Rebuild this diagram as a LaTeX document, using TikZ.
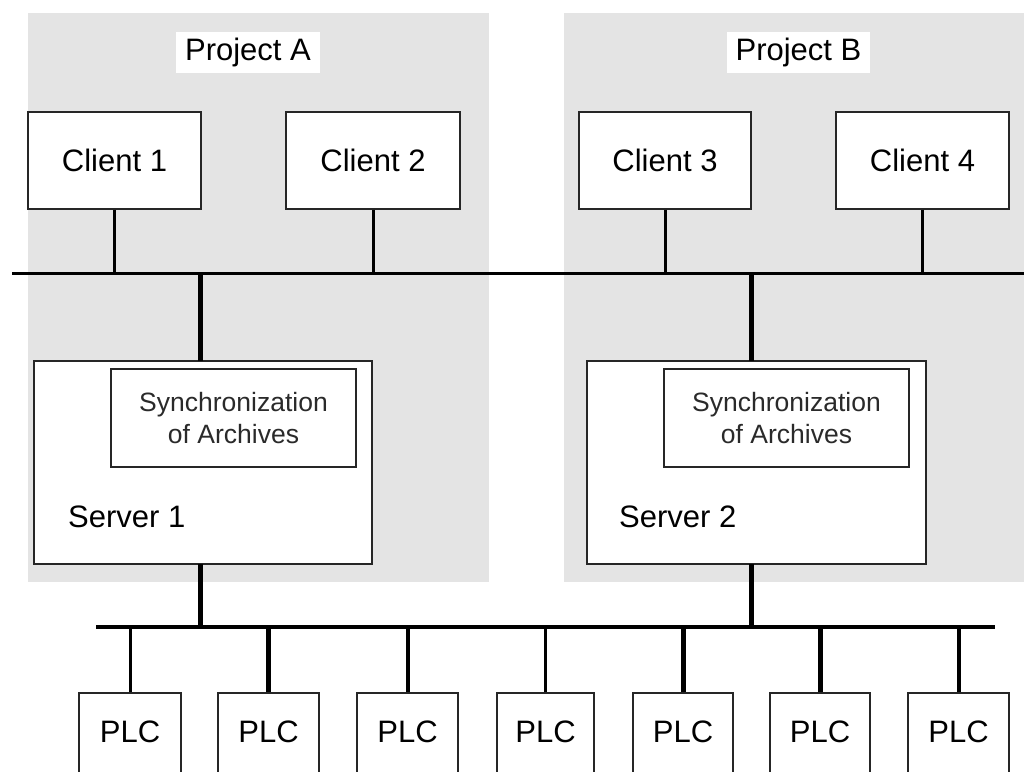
\documentclass[tikz,border=0pt]{standalone}
\usepackage{fontspec}
\setmainfont{Liberation Sans}
\definecolor{panelgrey}{HTML}{E4E4E4}
\definecolor{synctext}{HTML}{2A2A2A}
\tikzset{
  panel/.style={fill=panelgrey, draw=none},
  titlebox/.style={fill=white, draw=none, inner sep=0pt, font=\fontsize{31}{36}\selectfont},
  box/.style={draw=black!85, line width=1.3pt, fill=white, inner sep=0pt, font=\fontsize{31}{36}\selectfont},
  syncbox/.style={draw=black!85, line width=1.3pt, fill=white, inner sep=0pt, align=center,
    text=synctext, font=\fontsize{26.5}{32}\selectfont},
  lbl/.style={inner sep=0pt, font=\fontsize{31}{36}\selectfont},
  busline/.style={line width=3pt},
  thickbus/.style={line width=4.5pt},
  thinlink/.style={line width=3pt},
  midlink/.style={line width=4pt},
  thicklink/.style={line width=5pt}
}
\begin{document}
\begin{tikzpicture}[x=1pt,y=-1pt]
\clip (0,0) rectangle (1024,771);
\fill[white] (0,0) rectangle (1024,771);
% project panels
\fill[panel] (28,13) rectangle (489,582);
\fill[panel] (564,13) rectangle (1030,582);
\node[titlebox, minimum width=144, minimum height=41] (pa) at (248,52.5) {Project A};
\node[titlebox, minimum width=143, minimum height=41] (pb) at (798.5,52.5) {Project B};
% clients
\node[box, minimum width=173, minimum height=97] (c1) at (114.5,160.5) {Client 1};
\node[box, minimum width=174, minimum height=97] (c2) at (373,160.5) {Client 2};
\node[box, minimum width=172, minimum height=97] (c3) at (665,160.5) {Client 3};
\node[box, minimum width=173, minimum height=97] (c4) at (922.5,160.5) {Client 4};
% top bus
\coordinate (tbL) at (12,273);
\coordinate (tbR) at (1030,273);
\draw[busline] (tbL) -- (tbR);
\foreach \c in {c1,c2,c3,c4} {
  \draw[thinlink] (\c.south) -- (\c.south |- tbL);
}
% servers
\node[box, minimum width=338, minimum height=203] (s1) at (203,462.5) {};
\node[box, minimum width=339, minimum height=203] (s2) at (756.5,462.5) {};
\node[syncbox, minimum width=245, minimum height=98] (y1) at (233.5,418) {Synchronization\\of Archives};
\node[syncbox, minimum width=245, minimum height=98] (y2) at (786.5,418) {Synchronization\\of Archives};
\node[lbl, anchor=base west] (s1l) at (68,527) {Server 1};
\node[lbl, anchor=base west] (s2l) at (619,527) {Server 2};
\coordinate (s1t) at (200,361);
\coordinate (s2t) at (751,361);
\draw[thicklink] (s1t) -- (s1t |- tbL);
\draw[thicklink] (s2t) -- (s2t |- tbL);
% bottom bus
\coordinate (bbL) at (96,627);
\coordinate (bbR) at (995,627);
\draw[thickbus] (bbL) -- (bbR);
\coordinate (s1b) at (200,564);
\coordinate (s2b) at (751,564);
\draw[thicklink] (s1b) -- (s1b |- bbL);
\draw[thicklink] (s2b) -- (s2b |- bbL);
% PLCs
\node[box, minimum width=102, minimum height=110] (p1) at (130,748) {};
\node[box, minimum width=101, minimum height=110] (p2) at (268.5,748) {};
\node[box, minimum width=101, minimum height=110] (p3) at (407.5,748) {};
\node[box, minimum width=97, minimum height=110] (p4) at (545.5,748) {};
\node[box, minimum width=100, minimum height=110] (p5) at (683,748) {};
\node[box, minimum width=100, minimum height=110] (p6) at (820,748) {};
\node[box, minimum width=101, minimum height=110] (p7) at (958.5,748) {};
\foreach \p in {p1,p2,p3,p4,p5,p6,p7} {
  \node[lbl, anchor=base] at ([yshift=-12pt]\p.north |- 0,730) {PLC};
}
\draw[thinlink] (p1.north) -- (p1.north |- bbL);
\draw[thicklink] (p2.north) -- (p2.north |- bbL);
\draw[midlink] (p3.north) -- (p3.north |- bbL);
\draw[thinlink] (p4.north) -- (p4.north |- bbL);
\draw[thicklink] (p5.north) -- (p5.north |- bbL);
\draw[thicklink] (p6.north) -- (p6.north |- bbL);
\draw[midlink] (p7.north) -- (p7.north |- bbL);
\end{tikzpicture}
\end{document}
